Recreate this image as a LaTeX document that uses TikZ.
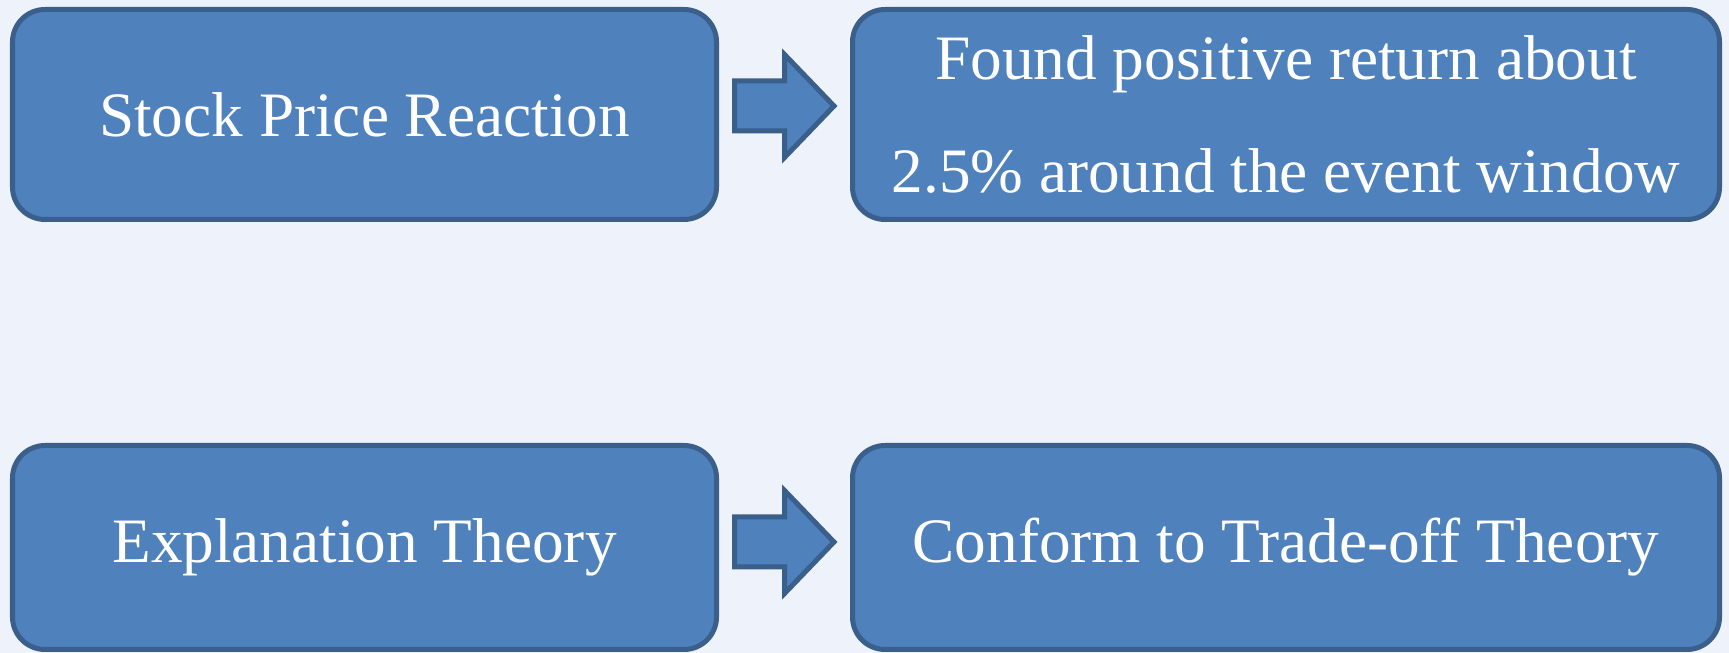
\documentclass[tikz,border=0pt]{standalone}
\usepackage{fontspec}
\setmainfont{Liberation Serif}
\usepackage{xcolor}
\usepackage{tikz}
\usetikzlibrary{positioning, calc}
\definecolor{rfBlue}{HTML}{4F81BD}
\definecolor{rfEdge}{HTML}{3A5F8B}
\definecolor{rfBack}{HTML}{EEF2FA}
\tikzset{
  blk/.style  ={draw=rfEdge, fill=rfBlue, line width=2.85pt, rounded corners=0.65cm, align=center,
                inner sep=0pt, minimum height=4.2cm, text=white, font=\fontsize{36}{64.8}\selectfont},
  barr/.style ={draw=rfEdge, fill=rfBlue, line width=2.85pt, line join=miter},
}

\begin{document}
\begin{tikzpicture}
\fill[rfBack] (0,0) rectangle (34.58,13.06);
\useasboundingbox (0,0) rectangle (34.58,13.06);
% ---- top row ----
\node[blk, minimum width=14.08cm] (price) at (7.29,10.77) {Stock Price Reaction};
\node[blk, minimum width=17.34cm] (ret)   at (25.72,10.77) {Found positive return about\\2.5\% around the event window};
% ---- bottom row ----
\node[blk, minimum width=14.08cm, minimum height=4.08cm] (expl)  at (7.29,2.11)  {Explanation Theory};
\node[blk, minimum width=17.34cm, minimum height=4.08cm] (trade) at (25.72,2.11) {Conform to Trade-off Theory};

% block arrows between the rows' boxes
\coordinate (a1) at ($(price.east)+(0.31,0.17)$);
\coordinate (a2) at ($(expl.east)+(0.31,0.11)$);
\foreach \a in {a1,a2}
  \draw[barr] (\a) -- ++(0,0.5) -- ++(1.0,0) -- ++(0,0.53) -- ($(\a)+(1.99,0)$)
     -- ($(\a)+(1.0,-1.03)$) -- ++(0,0.53) -- ($(\a)+(0,-0.5)$) -- cycle;
\end{tikzpicture}
\end{document}
